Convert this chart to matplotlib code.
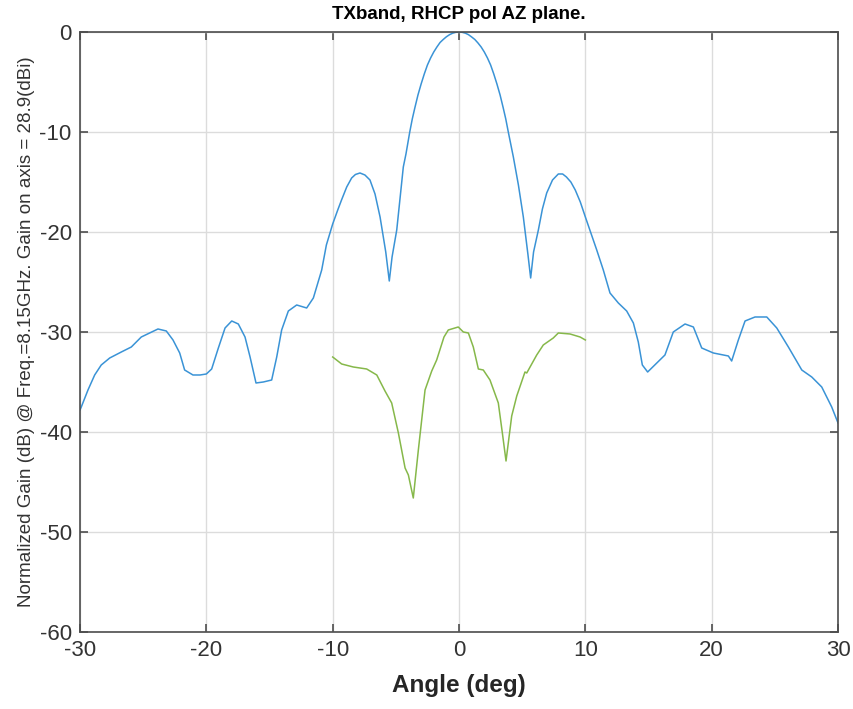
import numpy as np
import matplotlib
matplotlib.use("Agg")
import matplotlib.pyplot as plt

plt.rcParams['axes.unicode_minus'] = False  # ticks use a plain hyphen

# co-pol (RHCP) pattern
ang_co = [-30.0, -29.9, -29.37, -28.84, -28.32, -27.65, -26.73, -25.94, -25.15, -24.49,
          -23.83, -23.17, -22.64, -22.11, -21.72, -21.06, -20.5, -20.0, -19.58, -19.05,
          -18.52, -17.99, -17.47, -16.94, -16.54, -16.07, -15.49, -14.83, -14.43, -14.04,
          -13.51, -12.85, -12.06, -11.53, -10.87, -10.5, -10.0,
          -9.6, -9.3, -8.89, -8.5, -8.2, -7.84, -7.45, -7.05, -6.65, -6.25,
          -5.8, -5.52, -5.3, -4.93, -4.41, -4.2, -3.9, -3.7, -3.5, -3.25,
          -3.0, -2.75, -2.5, -2.25, -2.0, -1.75, -1.5, -1.25, -1.0, -0.75,
          -0.5, -0.25, 0.0, 0.25, 0.5, 0.75, 1.0, 1.25, 1.5, 1.75,
          2.0, 2.25, 2.5, 2.75, 3.0, 3.25, 3.5, 3.7, 3.9, 4.3,
          4.7, 5.09, 5.45, 5.67, 5.9, 6.28, 6.6, 6.94, 7.4, 7.86,
          8.2, 8.5, 8.85, 9.2, 9.6, 10.0, 10.9, 11.42, 11.95, 12.61,
          13.27, 13.8, 14.19, 14.51, 14.93, 15.65, 16.3, 16.96, 17.89, 18.55,
          19.21, 20.13, 21.32, 21.58, 22.11, 22.64, 23.43, 24.36, 25.15, 26.07,
          27.13, 27.92, 28.71, 29.5, 30.0]
gain_co = [-37.8, -37.5, -35.8, -34.3, -33.3, -32.6, -32.0, -31.5, -30.5, -30.1,
           -29.7, -29.9, -30.8, -32.1, -33.8, -34.3, -34.3, -34.2, -33.7, -31.6,
           -29.6, -28.9, -29.2, -30.5, -32.5, -35.1, -35.0, -34.8, -32.5, -29.8,
           -27.9, -27.3, -27.6, -26.6, -23.8, -21.3, -19.2,
           -17.8, -16.8, -15.5, -14.6, -14.25, -14.1, -14.3, -14.8, -16.2, -18.5,
           -22.0, -24.9, -22.5, -19.8, -13.5, -12.2, -10.0, -8.7, -7.6, -6.3,
           -5.2, -4.2, -3.3, -2.6, -2.0, -1.5, -1.05, -0.75, -0.48, -0.27,
           -0.12, -0.03, 0.0, -0.03, -0.12, -0.27, -0.5, -0.75, -1.1, -1.5,
           -2.0, -2.6, -3.3, -4.2, -5.2, -6.3, -7.6, -8.7, -10.0, -12.5,
           -15.3, -18.5, -22.2, -24.6, -22.0, -19.8, -17.7, -16.1, -14.8, -14.2,
           -14.2, -14.5, -15.0, -15.8, -17.0, -18.5, -21.8, -23.8, -26.1, -27.1,
           -27.9, -29.1, -31.0, -33.3, -34.0, -33.1, -32.3, -30.0, -29.2, -29.5,
           -31.6, -32.1, -32.4, -32.9, -30.8, -28.9, -28.5, -28.5, -29.6, -31.5,
           -33.8, -34.5, -35.5, -37.5, -39.1]

# cross-pol pattern
ang_x = [-10.0, -9.29, -8.37, -7.31, -6.51, -5.86, -5.33, -4.8, -4.27, -4.01,
         -3.62, -3.22, -2.69, -2.16, -1.77, -1.19, -0.85, -0.06, 0.34, 0.74,
         1.13, 1.53, 1.92, 2.45, 3.11, 3.43, 3.72, 4.17, 4.57, 5.22,
         5.36, 6.15, 6.67, 7.46, 7.86, 8.79, 9.58, 10.0]
gain_x = [-32.5, -33.2, -33.5, -33.7, -34.3, -35.9, -37.1, -40.1, -43.6, -44.3,
          -46.6, -41.8, -35.8, -33.9, -32.8, -30.5, -29.8, -29.5, -30.0, -30.1,
          -31.5, -33.7, -33.8, -34.8, -37.1, -40.1, -42.9, -38.4, -36.4, -34.0,
          -34.1, -32.3, -31.3, -30.6, -30.1, -30.2, -30.5, -30.8]

x_ticks = [-30, -20, -10, 0, 10, 20, 30]
y_ticks = [-60, -50, -40, -30, -20, -10, 0]

fonte = ['Liberation Sans', 'DejaVu Sans']

fig = plt.figure(figsize=(8.54, 7.09), dpi=100)
ax = fig.add_axes([0.0937, 0.1086, 0.8876, 0.8463])

ax.plot(ang_co, gain_co, color='#3a93d6', lw=1.1)
ax.plot(ang_x, gain_x, color='#86b84a', lw=1.1)

ax.set_xlim(-30, 30)
ax.set_ylim(-60, 0)
ax.set_xticks(x_ticks)
ax.set_yticks(y_ticks)
ax.grid(True, color='#dcdcdc', lw=1.0)
ax.tick_params(direction='in', length=6, width=1.2, color='#4d4d4d',
               top=True, right=True, labelsize=16, labelcolor='#333333', pad=6)
for lab in ax.get_xticklabels() + ax.get_yticklabels():
    lab.set_family(fonte)
for sp in ax.spines.values():
    sp.set_color('#4d4d4d')
    sp.set_linewidth(1.2)

ax.set_title('TXband, RHCP pol AZ plane.', fontsize=13.5, fontweight='bold',
             family=fonte, pad=9)
ax.set_xlabel('Angle (deg)', fontsize=17.5, fontweight='semibold',
              color='#262626', family=fonte, labelpad=9)
ax.set_ylabel('Normalized Gain (dB) @ Freq.=8.15GHz. Gain on axis = 28.9(dBi)',
              fontsize=13.5, color='#333333', family=fonte, labelpad=3)

fig.savefig('out.png', dpi=100)
